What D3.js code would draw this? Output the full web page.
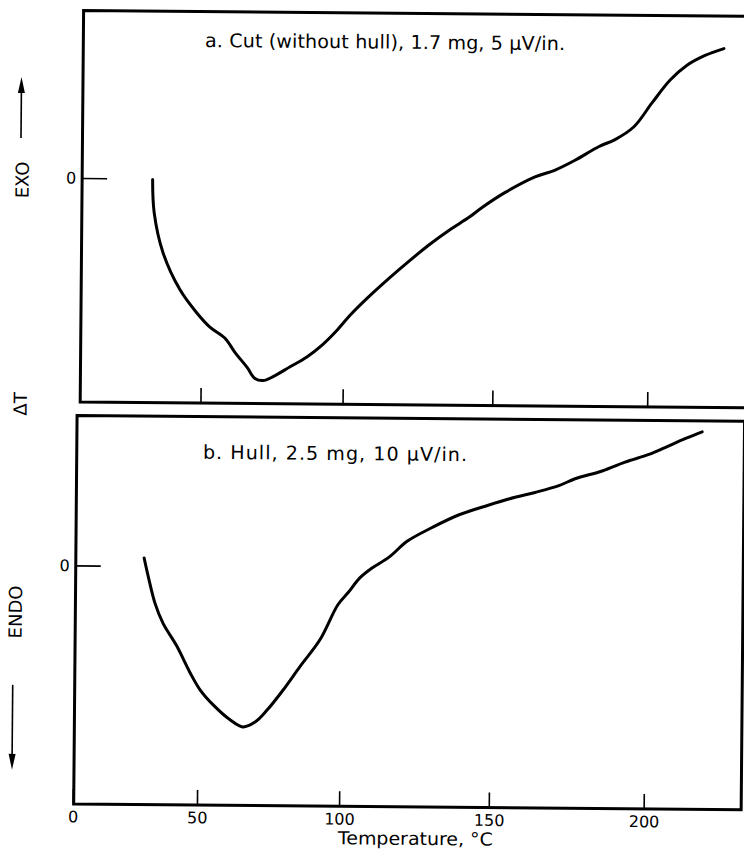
<!DOCTYPE html>
<html>
<head>
<meta charset="utf-8">
<script src="https://cdn.jsdelivr.net/npm/d3@7"></script>
<style>
  html, body { margin: 0; padding: 0; background: #fff; }
  svg { display: block; }
  text { font-family: "DejaVu Sans", sans-serif; fill: #000; }
</style>
</head>
<body>
<div id="chart"></div>
<script>
// DTA traces: temperature (°C) and deflection from baseline (chart units)
const tempA = [31.4, 32.1, 35.6, 42.1, 48.4, 53.2, 58.7, 62.3, 66.7, 69.5, 72.4, 75.9,
  81.8, 87.6, 92.8, 97.9, 102.3, 108.0, 118.7, 128.6, 135.3, 141.8, 146.1, 153.5,
  163.3, 169.8, 176.2, 183.9, 189.0, 195.0, 200.7, 206.4, 211.7, 217.4, 223.3];
const deltaA = [-0.1, -3.4, -7.4, -11.1, -13.4, -14.8, -15.9, -17.3, -18.8, -19.9, -20.1, -19.7,
  -18.7, -17.7, -16.5, -15.0, -13.5, -11.8, -8.9, -6.4, -4.9, -3.6, -2.6, -1.1,
  0.5, 1.2, 2.2, 3.6, 4.3, 5.6, 8.0, 10.3, 11.8, 12.8, 13.5];

const tempB = [29.4, 31.1, 33.7, 36.8, 42.1, 47.0, 50.7, 55.5, 61.7, 66.3, 70.6, 74.8,
  80.3, 86.2, 93.0, 99.0, 102.4, 106.4, 110.5, 116.2, 122.2, 130.5, 139.4, 149.2,
  157.7, 164.2, 171.9, 177.1, 185.8, 193.1, 200.7, 205.8, 212.1, 217.5];
const deltaB = [0.8, -1.1, -3.7, -5.7, -8.0, -10.6, -12.3, -13.8, -15.3, -16.0, -15.5, -14.3,
  -12.3, -9.9, -7.2, -3.7, -2.5, -1.0, 0.0, 1.1, 2.7, 4.1, 5.4, 6.4,
  7.2, 7.7, 8.4, 9.1, 9.9, 10.8, 11.6, 12.3, 13.2, 13.9];

const xTicks = [0, 50, 100, 150, 200];
const yTicks = [0];
const titleA = "a.  Cut  (without  hull),  1.7 mg,  5 μV/in.";
const titleB = "b.  Hull,  2.5 mg,  10 μV/in.";
const xLabel = "Temperature,  °C";

const width = 744, height = 850;

const svg = d3.select("#chart").append("svg")
  .attr("width", width)
  .attr("height", height);

// the scanned figure sits slightly skewed on the page
const root = svg.append("g").attr("transform", "rotate(0.5, 372, 425)");

// recorder temperature scale is not quite linear
const x = d3.scalePow().exponent(1.1).domain([0, 200]).range([76, 647]);

const panels = [
  { t: tempA, v: deltaA, title: titleA, left: 80, top: 13, bottom: 404.5, right: 770,
    domain: [-22.4, 16.75], titleX: 201.7, titleY: 48.5, titleW: 360, labels: false },
  { t: tempB, v: deltaB, title: titleB, left: 77, top: 418, bottom: 806.5, right: 744.5,
    domain: [-23.85, 15.0], titleX: 203.3, titleY: 460.3, titleW: 264, labels: true }
];

panels.forEach(p => {
  const y = d3.scaleLinear().domain(p.domain).range([p.bottom, p.top]);
  const g = root.append("g");

  // frame
  g.append("path")
    .attr("d", `M${p.right},${p.top}H${p.left}V${p.bottom}H${p.right}` + (p.labels ? `V${p.top}` : ""))
    .attr("fill", "none")
    .attr("stroke", "#000")
    .attr("stroke-width", 3);

  // temperature ticks
  const xAxis = g.append("g")
    .attr("transform", `translate(0,${p.bottom})`)
    .call(d3.axisBottom(x)
      .tickValues(p.labels ? xTicks : xTicks.slice(1))
      .tickSizeInner(-15)
      .tickSizeOuter(0)
      .tickPadding(7)
      .tickFormat(p.labels ? d3.format("d") : ""));
  xAxis.select(".domain").remove();
  xAxis.selectAll("line").attr("stroke", "#000").attr("stroke-width", 1.6);
  xAxis.selectAll("text")
    .attr("fill", "#000")
    .style("font-family", "DejaVu Sans, sans-serif")
    .style("font-size", "16px");

  // baseline tick
  const yAxis = g.append("g")
    .attr("transform", `translate(${p.left},0)`)
    .call(d3.axisLeft(y).tickValues(yTicks).tickSizeInner(-25).tickSizeOuter(0).tickPadding(6));
  yAxis.select(".domain").remove();
  yAxis.selectAll("line").attr("stroke", "#000").attr("stroke-width", 1.6);
  yAxis.selectAll("text")
    .attr("fill", "#000")
    .style("font-family", "DejaVu Sans, sans-serif")
    .style("font-size", "16px");

  // trace
  const pts = p.t.map((t, i) => ({ t: t, v: p.v[i] }));
  g.append("path")
    .datum(pts)
    .attr("fill", "none")
    .attr("stroke", "#000")
    .attr("stroke-width", 3)
    .attr("stroke-linejoin", "round")
    .attr("stroke-linecap", "round")
    .attr("d", d3.line()
      .x(d => x(d.t))
      .y(d => y(d.v))
      .curve(d3.curveCatmullRom));

  g.append("text")
    .attr("x", p.titleX)
    .attr("y", p.titleY)
    .attr("textLength", p.titleW)
    .attr("lengthAdjust", "spacing")
    .style("font-size", "19px")
    .text(p.title);
});

// x axis title
root.append("text")
  .attr("x", 419)
  .attr("y", 844.5)
  .attr("text-anchor", "middle")
  .attr("textLength", 155)
  .attr("lengthAdjust", "spacingAndGlyphs")
  .style("font-size", "18px")
  .text(xLabel);

// ΔT side labels
const side = [
  { label: "EXO", x: 20, y: 183 },
  { label: "ΔT", x: 20, y: 407 },
  { label: "ENDO", x: 17, y: 615 }
];
root.selectAll(".side")
  .data(side)
  .enter()
  .append("text")
  .attr("class", "side")
  .attr("transform", d => `translate(${d.x},${d.y}) rotate(-90)`)
  .attr("text-anchor", "middle")
  .attr("dominant-baseline", "central")
  .style("font-size", "18px")
  .text(d => d.label);

// arrows
function arrow(ax, tail, tip) {
  const dir = tip < tail ? 1 : -1;
  root.append("line")
    .attr("x1", ax).attr("x2", ax)
    .attr("y1", tail).attr("y2", tip + dir * 12)
    .attr("stroke", "#000")
    .attr("stroke-width", 1.6);
  root.append("path")
    .attr("d", `M${ax},${tip}L${ax - 3.5},${tip + dir * 16}L${ax + 3.5},${tip + dir * 16}Z`)
    .attr("fill", "#000");
}
arrow(18.5, 141, 80);
arrow(15, 688, 773);
</script>
</body>
</html>
